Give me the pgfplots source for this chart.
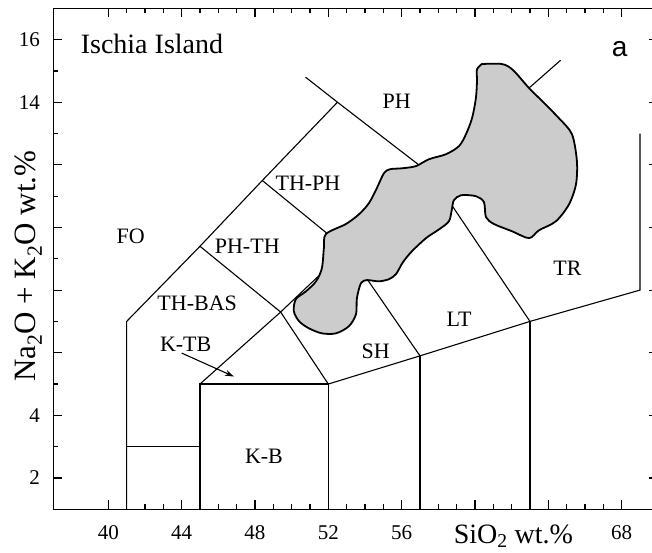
\documentclass[border=0pt]{standalone}
\usepackage{fontspec}
\setmainfont{Liberation Serif}
\newfontfamily\arialfont{Liberation Sans}
\usepackage{pgfplots}
\pgfplotsset{compat=1.18}
\usetikzlibrary{arrows.meta}
\begin{document}
\begin{tikzpicture}
\useasboundingbox (-53.3pt,-43.7pt) rectangle (598.7pt,509.3pt);
\begin{axis}[
  width=605pt, height=501pt, scale only axis,
  xmin=37, xmax=70, ymin=1, ymax=17,
  xtick={40,44,...,68}, xticklabels={40,44,48,52,56,,,68},
  minor x tick num=3,
  ytick={2,4,...,16}, yticklabels={2,4,,,,,14,16}, minor y tick num=1,
  tick style={black, line width=1.2pt},
  major tick length=9pt, minor tick length=5pt,
  axis line style={line width=1.5pt},
  ticklabel style={font=\fontsize{21}{24}\selectfont, inner sep=0pt},
  xticklabel style={anchor=base, yshift=-30pt},
  yticklabel style={anchor=east, xshift=-13.3pt},
  clip mode=individual,
]
% boundaries
\addplot[black, line width=1.1pt] coordinates {(41,1) (41,7) (45,9.4) (48.4,11.5) (52.5,14) (50.76,14.8)};
\addplot[black, line width=1.1pt] coordinates {(41,3) (45,3)};
\addplot[black, line width=1.1pt] coordinates {(45,1) (45,5) (52,5) (52,1)};
\addplot[black, line width=1.1pt] coordinates {(45,5) (49.4,7.3) (53,9.3)};
\addplot[black, line width=1.1pt] coordinates {(45,9.4) (49.4,7.3) (52,5)};
\addplot[black, line width=1.1pt] coordinates {(48.4,11.5) (53,9.3) (57,5.9)};
\addplot[black, line width=1.1pt] coordinates {(52.5,14) (57.6,11.7) (63,7)};
\addplot[black, line width=1.1pt] coordinates {(52,5) (57,5.9) (63,7) (69,8) (69,13)};
\addplot[black, line width=1.1pt] coordinates {(57,1) (57,5.9)};
\addplot[black, line width=1.1pt] coordinates {(63,1) (63,7)};
\addplot[black, line width=1.1pt] coordinates {(57.6,11.7) (64.67,15.34)};
% Ischia field
\addplot[fill=gray!40, draw=black, line width=1.8pt, smooth, tension=0.5] coordinates {
(60.38,15.22) (61.47,15.22) (62.07,15.03) (62.95,14.45) (63.66,14.04) (64.58,13.49)
(65.29,12.98) (65.56,12.12) (65.51,11.38) (65.13,10.74) (64.42,10.20) (63.49,9.91)
(62.95,9.66) (62.02,9.88) (61.04,10.11) (60.60,10.33) (60.49,10.81) (60.05,11.00)
(59.24,11.03) (58.85,10.87) (58.74,10.58) (58.58,10.20) (58.04,9.94) (57.33,9.66)
(56.56,9.24) (56.07,8.89) (55.69,8.51) (55.31,8.35) (54.76,8.28) (54.11,8.32)
(53.78,8.22) (53.56,7.74) (53.51,7.23) (53.13,6.85) (52.42,6.62) (51.65,6.62)
(50.94,6.78) (50.40,7.01) (50.12,7.33) (50.23,7.71) (50.78,7.96) (51.33,8.28)
(51.65,8.70) (51.76,9.34) (51.87,9.79) (52.96,10.11) (53.67,10.42) (54.22,10.78)
(54.65,11.26) (55.03,11.73) (55.36,11.86) (56.02,11.89) (56.78,11.96) (57.49,12.18)
(58.42,12.34) (59.13,12.60) (59.51,12.98) (59.84,13.49) (60.05,14.13) (60.11,14.67)
(60.11,15.05) (60.38,15.22)} -- cycle;
% arrow
\addplot[black, line width=1.1pt, -{Stealth[length=9pt, width=6pt]}] coordinates {(44.0,5.99) (46.85,5.24)};
% labels
\begin{scope}[font=\fontsize{22}{26}\selectfont]
\node at (axis cs:55.73,14.03) {PH};
\node at (axis cs:50.89,11.42) {TH-PH};
\node at (axis cs:41.22,9.72) {FO};
\node at (axis cs:47.58,9.40) {PH-TH};
\node at (axis cs:44.85,7.59) {TH-BAS};
\node at (axis cs:44.22,6.28) {K-TB};
\node at (axis cs:48.49,2.69) {K-B};
\node at (axis cs:54.58,6.05) {SH};
\node at (axis cs:59.13,7.06) {LT};
\node at (axis cs:65.04,8.71) {TR};
\end{scope}
\node[anchor=base west, inner sep=0pt, font=\fontsize{28}{32}\selectfont] at (axis cs:38.49,15.55) {Ischia Island};
\node[anchor=base west, inner sep=0pt, font=\arialfont\fontsize{28}{32}\selectfont] at (axis cs:67.46,15.47) {a};
\node[anchor=base, inner sep=0pt, font=\fontsize{28}{32}\selectfont] at ([yshift=-33.7pt]axis cs:62.1,1) {SiO\textsubscript{2} wt.\%};
\node[anchor=base, inner sep=0pt, rotate=90, font=\fontsize{31}{36}\selectfont] at ([xshift=-17.3pt]axis cs:37,8.76) {Na\textsubscript{2}O + K\textsubscript{2}O wt.\%};
\end{axis}
\end{tikzpicture}
\end{document}
